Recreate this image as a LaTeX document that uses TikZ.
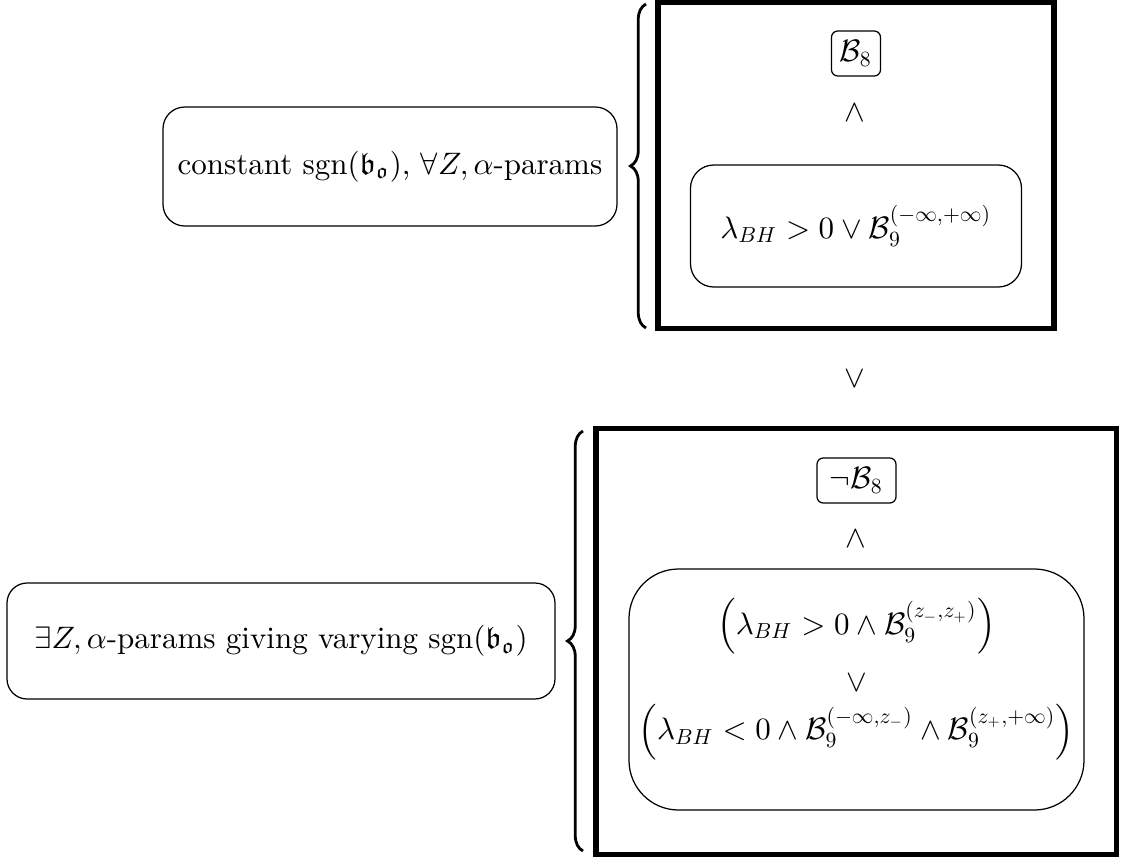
\documentclass[tikz,border=0pt]{standalone}
\usepackage{amsmath,amssymb}
% use linearly scaled (non-optical) fonts for script sizes
\DeclareFontFamily{OT1}{cmr}{\hyphenchar\font45 }
\DeclareFontShape{OT1}{cmr}{m}{n}{<-> cmr10}{}
\DeclareFontFamily{OML}{cmm}{\skewchar\font127 }
\DeclareFontShape{OML}{cmm}{m}{it}{<-> cmmi10}{}
\DeclareFontFamily{OMS}{cmsy}{\skewchar\font48 }
\DeclareFontShape{OMS}{cmsy}{m}{n}{<-> cmsy10}{}
\usetikzlibrary{decorations.pathreplacing}
\def\u{0.3226pt}
\begin{document}
\begin{tikzpicture}[x=0.3226pt,y=-0.3226pt,
  rbox/.style={draw,line width=0.4pt,inner sep=0pt},
  thickbox/.style={draw,line width=1.8pt,inner sep=0pt},
  op/.style={inner sep=0pt},
  bracedec/.style={decorate,decoration={brace,amplitude=5pt},line width=0.9pt}]
\useasboundingbox (0,0) rectangle (1124,859);

% top group
\node[rbox,rounded corners=7pt,minimum width=454*\u,minimum height=119*\u] (c1) at (390,166.5)
  {constant $\mathrm{sgn}(\mathfrak{b}_{\mathfrak{o}})$, $\forall Z,\alpha$-params};
\node[thickbox,minimum width=396*\u,minimum height=326*\u] (T) at (856,165.5) {};
\node[rbox,rounded corners=2pt,minimum width=49*\u,minimum height=45*\u] (b8) at (856,53.5) {$\mathcal{B}_8$};
\node[op] (and1) at (855,112.5) {$\wedge$};
\node[rbox,rounded corners=7.5pt,minimum width=331*\u,minimum height=122*\u] (in1) at (856,226)
  {$\lambda_{BH}>0\vee\mathcal{B}_9^{(-\infty,+\infty)}$};
\coordinate (tb1) at (646,328);
\coordinate (tb2) at (646,4);
\draw[bracedec] (tb1) -- (tb2);

% middle
\node[op] (or) at (855,379) {$\vee$};

% bottom group
\node[rbox,rounded corners=6.5pt,minimum width=548*\u,minimum height=116*\u] (c2) at (281,641)
  {$\exists Z,\alpha$-params giving varying $\mathrm{sgn}(\mathfrak{b}_{\mathfrak{o}})$};
\node[thickbox,minimum width=520.5*\u,minimum height=426*\u] (Bt) at (856.25,641.5) {};
\node[rbox,rounded corners=2pt,minimum width=79*\u,minimum height=45*\u] (nb8) at (856.5,480.5) {$\neg\mathcal{B}_8$};
\node[op] (and2) at (856,539) {$\wedge$};
\node[rbox,rounded corners=16pt,minimum width=455*\u,minimum height=241*\u] (in2) at (856.5,689.5) {};
\node[op] (in2t) at (856.5,679) {$\begin{array}{c}
  \Bigl(\lambda_{BH}>0\wedge\mathcal{B}_9^{(z_-,z_+)}\Bigr)\\[6.5pt]
  \vee\\[0.4pt]
  \Bigl(\lambda_{BH}<0\wedge\mathcal{B}_9^{(-\infty,z_-)}\wedge\mathcal{B}_9^{(z_+,+\infty)}\Bigr)
  \end{array}$};
\coordinate (bb1) at (583,851);
\coordinate (bb2) at (583,431);
\draw[bracedec] (bb1) -- (bb2);
\end{tikzpicture}
\end{document}
